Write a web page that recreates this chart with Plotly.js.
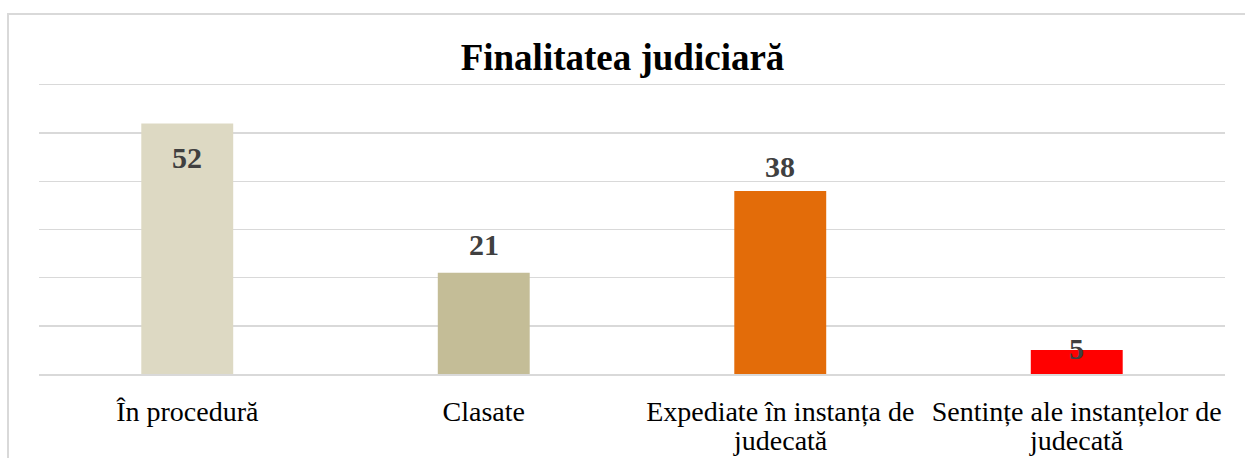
<!DOCTYPE html>
<html>
<head>
<meta charset="utf-8">
<script src="https://cdn.plot.ly/plotly-3.0.1.min.js"></script>
<style>
  html, body { margin: 0; padding: 0; background: #fff; overflow: hidden; }
  #frame { position: absolute; left: 7px; top: 13px; width: 1260px; height: 470px; border: 2px solid #d9d9d9; box-sizing: border-box; pointer-events: none; }
  #chart { width: 1245px; height: 458px; }
</style>
</head>
<body>
<div id="chart"></div>
<div id="frame"></div>
<script>
const categories = ["În procedură", "Clasate", "Expediate în instanța de judecată", "Sentințe ale instanțelor de judecată"];
const tickLine1 = ["În procedură", "Clasate", "Expediate în instanța de", "Sentințe ale instanțelor de"];
const tickLine2 = ["", "", "judecată", "judecată"];
const values = [52, 21, 38, 5];
const barColors = ["#ddd9c3", "#c4bd97", "#e36c09", "#ff0000"];
// vertical offset (px) of each value label relative to the bar top
const labelShift = [-34, 28, 24, 1];

const SERIF = "Liberation Serif, Times New Roman, serif";

const trace = {
  type: "bar",
  x: categories,
  y: values,
  marker: { color: barColors },
  hoverinfo: "skip",
};

const annotations = values.map((v, i) => ({
  x: categories[i],
  y: v,
  xref: "x",
  yref: "y",
  text: String(v),
  showarrow: false,
  yanchor: "middle",
  yshift: labelShift[i],
  font: { family: SERIF, size: 30, color: "#404040", weight: "bold" },
}));

// second line of the wrapped category labels (tighter line spacing than <br>)
tickLine2.forEach((t, i) => {
  if (!t) return;
  annotations.push({
    x: categories[i],
    y: 0,
    xref: "x",
    yref: "y",
    text: t,
    showarrow: false,
    yanchor: "middle",
    yshift: -66,
    font: { family: SERIF, size: 28, color: "#000" },
  });
});

const layout = {
  width: 1245,
  height: 458,
  margin: { l: 39, r: 20, t: 85, b: 84 },
  paper_bgcolor: "white",
  plot_bgcolor: "white",
  bargap: 0.69,
  showlegend: false,
  title: {
    text: "<b>Finalitatea judiciară</b>",
    x: 0.5,
    xanchor: "center",
    y: 1 - 57 / 458,
    yanchor: "middle",
    font: { family: SERIF, size: 37, color: "#000" },
  },
  xaxis: {
    tickvals: categories,
    ticktext: tickLine1,
    tickfont: { family: SERIF, size: 28, color: "#000" },
    ticks: "",
    ticklabelstandoff: 12,
    showline: true,
    mirror: true,
    linecolor: "#d9d9d9",
    linewidth: 1.5,
    fixedrange: true,
  },
  yaxis: {
    range: [0, 60],
    dtick: 10,
    showticklabels: false,
    showgrid: true,
    gridcolor: "#d9d9d9",
    gridwidth: 1.5,
    zeroline: false,
    showline: false,
    fixedrange: true,
  },
  annotations,
};

Plotly.newPlot("chart", [trace], layout, { displayModeBar: false, staticPlot: true });
</script>
</body>
</html>
